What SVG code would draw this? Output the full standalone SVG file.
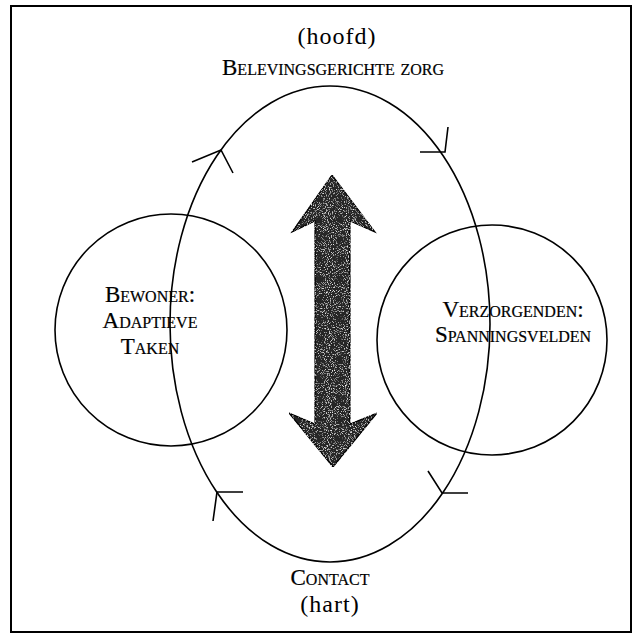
<svg xmlns="http://www.w3.org/2000/svg" width="642" height="635" viewBox="0 0 642 635">
<defs>
<style>
.ln{fill:none;stroke:#000;stroke-width:1.6}
.fr{fill:none;stroke:#000;stroke-width:2}
.t{font-family:"Liberation Serif",serif;fill:#000;text-anchor:middle}
.sc{font-variant:small-caps;font-size:23px;stroke:#000;stroke-width:0.2}
.pl{font-size:24px;letter-spacing:1px}
</style>
<filter id="grain" x="0" y="0" width="1" height="1">
<feTurbulence type="fractalNoise" baseFrequency="0.95" numOctaves="2" seed="3" result="n"/>
<feColorMatrix in="n" type="matrix" values="0 0 0 0 1  0 0 0 0 1  0 0 0 0 1  3 0 0 0 -1.65" result="w"/>
<feComposite in="w" in2="SourceGraphic" operator="in" result="wc"/>
<feMerge><feMergeNode in="SourceGraphic"/><feMergeNode in="wc"/></feMerge>
</filter>
</defs>
<rect width="642" height="635" fill="#fff"/>
<rect class="fr" x="11" y="6" width="620" height="626"/>
<g id="zorg-ellipse"><ellipse class="ln" cx="330" cy="324" rx="160" ry="238"/></g>
<g id="bewoner"><circle class="ln" cx="171" cy="330" r="116"/>
<text class="t sc" x="150" y="302">Bewoner:</text>
<text class="t sc" x="150" y="328">Adaptieve</text>
<text class="t sc" x="150" y="354">Taken</text></g>
<g id="verzorgenden"><circle class="ln" cx="492" cy="340" r="115"/>
<text class="t sc" x="513" y="317">Verzorgenden:</text>
<text class="t sc" x="513" y="342">Spanningsvelden</text></g>
<g id="hoofd"><text class="t pl" x="337" y="44">(hoofd)</text>
<text class="t sc" x="333" y="75">Belevingsgerichte zorg</text></g>
<g id="hart"><text class="t sc" x="330" y="585">Contact</text>
<text class="t pl" x="330" y="612">(hart)</text></g>
<g id="connectors">
<path class="ln" d="M192,162 L221,150 L233,173"/>
<path class="ln" d="M420,152 L445,152 L448,127"/>
<path class="ln" d="M428,471 L442,493 L468,493"/>
<path class="ln" d="M243,492 L217,492 L213,521"/>
<polygon points="332,175 375,232 350,221 350,424 377,413 333,467 289,413 315,424 315,221 292,232" fill="#262626" stroke="#000" stroke-width="1.2" filter="url(#grain)"/>
</g>
</svg>
